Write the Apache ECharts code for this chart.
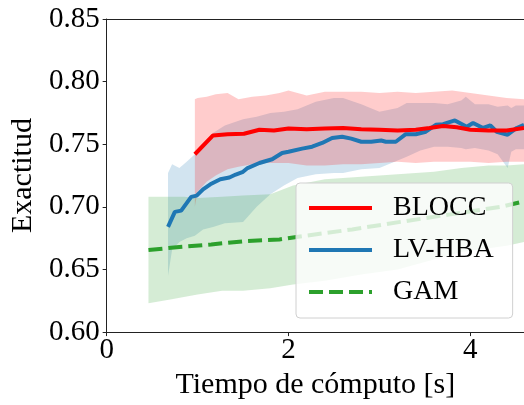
<!DOCTYPE html>
<html>
<head>
<meta charset="utf-8">
<script src="https://cdn.jsdelivr.net/npm/echarts@6/dist/echarts.min.js"></script>
<style>
  html, body { margin: 0; padding: 0; background: #ffffff; }
  #chart { width: 524px; height: 405px; }
</style>
</head>
<body>
<div id="chart"></div>
<script>
// Mean accuracy curves versus compute time (seconds)
const blocX = [0.97, 1.17, 1.33, 1.51, 1.68, 1.84, 2.0, 2.2, 2.4, 2.6, 2.8, 3.0, 3.2, 3.4, 3.55, 3.7, 3.85, 4.0, 4.2, 4.4, 4.59];
const blocY = [0.742, 0.757, 0.758, 0.7584, 0.7616, 0.761, 0.7625, 0.762, 0.7625, 0.763, 0.762, 0.7616, 0.761, 0.7616, 0.763, 0.7645, 0.7635, 0.7616, 0.761, 0.761, 0.763];

const lvX = [0.675, 0.75, 0.82, 0.93, 0.99, 1.06, 1.14, 1.25, 1.35, 1.42, 1.50, 1.55, 1.68, 1.82, 1.93, 2.0, 2.15, 2.26, 2.37, 2.48, 2.59, 2.69, 2.80, 2.91, 3.02, 3.07, 3.18, 3.29, 3.40, 3.51, 3.62, 3.70, 3.83, 3.96, 4.03, 4.14, 4.22, 4.29, 4.41, 4.51, 4.59];
const lvY = [0.684, 0.696, 0.697, 0.708, 0.709, 0.714, 0.718, 0.722, 0.7234, 0.7258, 0.728, 0.731, 0.735, 0.738, 0.743, 0.744, 0.7465, 0.748, 0.751, 0.755, 0.756, 0.7545, 0.752, 0.752, 0.753, 0.752, 0.752, 0.758, 0.758, 0.760, 0.7655, 0.766, 0.769, 0.764, 0.767, 0.763, 0.765, 0.760, 0.7576, 0.763, 0.7656];

const gamX = [0.46, 0.8, 1.15, 1.53, 1.90, 2.16, 2.4, 2.7, 3.23, 3.78, 4.33, 4.54, 4.59];
const gamY = [0.6655, 0.668, 0.670, 0.6727, 0.674, 0.6767, 0.679, 0.682, 0.688, 0.694, 0.700, 0.7035, 0.704];

// Spread bands (lower / upper) for each method
const blocBandX = [0.97, 1.0, 1.1, 1.2, 1.33, 1.45, 1.6, 1.75, 1.9, 2.0, 2.2, 2.4, 2.6, 2.8, 3.0, 3.2, 3.4, 3.6, 3.8, 4.0, 4.2, 4.4, 4.59];
const blocLow  = [0.700, 0.712, 0.720, 0.725, 0.730, 0.732, 0.734, 0.735, 0.735, 0.735, 0.733, 0.733, 0.734, 0.734, 0.735, 0.736, 0.735, 0.736, 0.736, 0.736, 0.735, 0.736, 0.736];
const blocHigh = [0.786, 0.787, 0.788, 0.790, 0.791, 0.786, 0.788, 0.789, 0.791, 0.793, 0.789, 0.792, 0.792, 0.792, 0.791, 0.792, 0.791, 0.792, 0.793, 0.791, 0.789, 0.787, 0.786];

const lvBandX = [0.675, 0.72, 0.80, 0.88, 0.97, 1.06, 1.17, 1.30, 1.50, 1.65, 1.80, 1.95, 2.1, 2.3, 2.5, 2.6, 2.8, 3.0, 3.2, 3.3, 3.45, 3.6, 3.75, 3.9, 3.95, 4.05, 4.2, 4.3, 4.41, 4.45, 4.5, 4.59];
const lvLow  = [0.645, 0.666, 0.672, 0.675, 0.677, 0.682, 0.684, 0.687, 0.688, 0.700, 0.710, 0.717, 0.723, 0.726, 0.727, 0.727, 0.730, 0.731, 0.737, 0.740, 0.745, 0.748, 0.748, 0.747, 0.746, 0.747, 0.745, 0.742, 0.731, 0.744, 0.746, 0.746];
const lvHigh = [0.727, 0.734, 0.731, 0.736, 0.742, 0.750, 0.759, 0.765, 0.770, 0.772, 0.775, 0.776, 0.778, 0.784, 0.787, 0.787, 0.782, 0.776, 0.779, 0.783, 0.783, 0.783, 0.782, 0.785, 0.788, 0.782, 0.782, 0.780, 0.781, 0.779, 0.781, 0.781];

const gamBandX = [0.46, 0.7, 0.85, 1.0, 1.27, 1.5, 1.8, 2.05, 2.4, 2.8, 3.2, 3.6, 3.9, 4.2, 4.4, 4.59];
const gamLow  = [0.623, 0.626, 0.628, 0.630, 0.633, 0.633, 0.635, 0.638, 0.641, 0.646, 0.650, 0.658, 0.664, 0.667, 0.669, 0.672];
const gamHigh = [0.708, 0.708, 0.708, 0.707, 0.708, 0.709, 0.710, 0.717, 0.722, 0.724, 0.726, 0.728, 0.731, 0.733, 0.733, 0.734];

const yTicks = [0.60, 0.65, 0.70, 0.75, 0.80, 0.85];
const xTicks = [0, 2, 4];

const FONT = '"Liberation Serif", "DejaVu Serif", serif';
const RED = '#ff0000', BLUE = '#1f77b4', GREEN = '#2ca02c';

function pairs(xs, ys) { return xs.map((x, i) => [x, ys[i]]); }

// Filled polygon between lower and upper bound, placed through the axis scales
function bandSeries(name, xs, lo, hi, fill, z) {
  return {
    type: 'custom',
    name: name,
    silent: true,
    clip: true,
    z: z,
    data: xs.map((x, i) => [x, lo[i], hi[i]]),
    encode: { x: 0, y: [1, 2] },
    renderItem: function (params, api) {
      if (params.dataIndex !== 0) return null;
      const pts = [];
      for (let i = 0; i < xs.length; i++) pts.push(api.coord([xs[i], hi[i]]));
      for (let i = xs.length - 1; i >= 0; i--) pts.push(api.coord([xs[i], lo[i]]));
      return { type: 'polygon', shape: { points: pts }, style: { fill: fill } };
    }
  };
}

const chart = echarts.init(document.getElementById('chart'), null, { renderer: 'canvas' });
chart.setOption({
  animation: false,
  backgroundColor: '#ffffff',
  grid: { left: 102, right: 0, top: 19, bottom: 71 },
  xAxis: [{
    type: 'value', min: 0, max: 4.59, interval: 2,
    name: 'Tiempo de cómputo [s]', nameLocation: 'middle', nameGap: 33,
    nameTextStyle: { fontFamily: FONT, fontSize: 30, color: '#000' },
    axisLine: { show: true, lineStyle: { color: '#222', width: 1 } },
    axisTick: { show: true, length: 4, inside: false, lineStyle: { color: '#222' } },
    axisLabel: {
      fontFamily: FONT, fontSize: 29, color: '#000', margin: 4, showMaxLabel: false,
      formatter: v => (xTicks.indexOf(v) >= 0 ? String(v) : '')
    },
    splitLine: { show: false }
  }, {
    type: 'value', position: 'top', min: 0, max: 4.59,
    axisLine: { show: true, onZero: false, lineStyle: { color: '#222', width: 1 } },
    axisTick: { show: false }, axisLabel: { show: false }, splitLine: { show: false }
  }],
  yAxis: {
    type: 'value', min: 0.60, max: 0.85, interval: 0.05,
    name: 'Exactitud', nameLocation: 'middle', nameGap: 61, nameRotate: 90,
    nameTextStyle: { fontFamily: FONT, fontSize: 30, color: '#000' },
    axisLine: { show: true, lineStyle: { color: '#222', width: 1 } },
    axisTick: { show: true, length: 4, lineStyle: { color: '#222' } },
    axisLabel: {
      fontFamily: FONT, fontSize: 29, color: '#000', margin: 7,
      formatter: v => yTicks.find(t => Math.abs(t - v) < 1e-9).toFixed(2)
    },
    splitLine: { show: false }
  },
  legend: {
    data: ['BLOCC', 'LV-HBA', 'GAM'],
    orient: 'vertical',
    left: 296, top: 183,
    padding: [10, 19, 11, 11],
    itemGap: 12,
    itemWidth: 63, itemHeight: 20,
    backgroundColor: 'rgba(255,255,255,0.8)',
    borderColor: '#d0d0d0', borderWidth: 1, borderRadius: 4,
    // legend keys show only the line stroke, no marker
    itemStyle: { color: 'rgba(0,0,0,0)', borderColor: 'rgba(0,0,0,0)', borderWidth: 0, opacity: 0 },
    lineStyle: { width: 4 },
    textStyle: { fontFamily: FONT, fontSize: 28, color: '#000', padding: [0, 0, 0, 16], lineHeight: 30 }
  },
  series: [
    bandSeries('LV-HBA banda', lvBandX, lvLow, lvHigh, 'rgba(31,119,180,0.2)', 1),
    bandSeries('BLOCC banda', blocBandX, blocLow, blocHigh, 'rgba(255,0,0,0.2)', 1),
    bandSeries('GAM banda', gamBandX, gamLow, gamHigh, 'rgba(44,160,44,0.2)', 1),
    {
      type: 'line', name: 'LV-HBA', data: pairs(lvX, lvY), showSymbol: false, symbol: 'none',
      lineStyle: { color: BLUE, width: 4 }, itemStyle: { color: BLUE }, z: 2
    },
    {
      type: 'line', name: 'BLOCC', data: pairs(blocX, blocY), showSymbol: false, symbol: 'none',
      lineStyle: { color: RED, width: 4 }, itemStyle: { color: RED }, z: 3
    },
    {
      type: 'line', name: 'GAM', data: pairs(gamX, gamY), showSymbol: false, symbol: 'none',
      lineStyle: { color: GREEN, width: 4, type: [14, 6] }, itemStyle: { color: GREEN }, z: 2
    }
  ]
});
</script>
</body>
</html>
